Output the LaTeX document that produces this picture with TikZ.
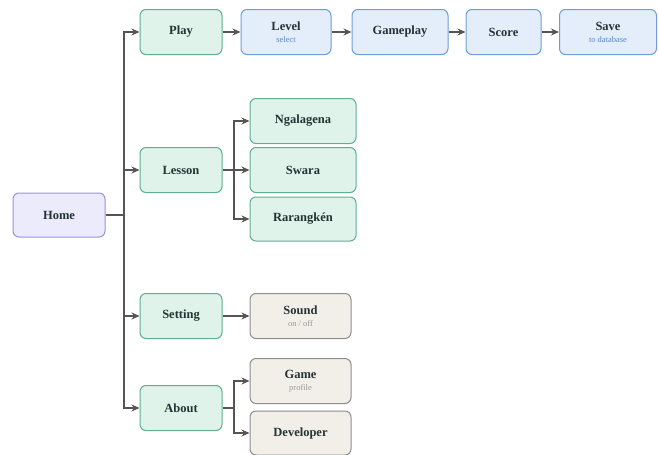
\documentclass[tikz,border=0pt]{standalone}
\usepackage{fontspec}
\setmainfont{Liberation Serif}
\usetikzlibrary{arrows.meta}
\definecolor{gfill}{HTML}{E0F3EA}
\definecolor{gdraw}{HTML}{5FAE92}
\definecolor{bfill}{HTML}{E3EEFA}
\definecolor{bdraw}{HTML}{6D9EDB}
\definecolor{pfill}{HTML}{ECEBFB}
\definecolor{pdraw}{HTML}{9C90E2}
\definecolor{efill}{HTML}{F2EFE9}
\definecolor{edraw}{HTML}{8E8E8E}
\definecolor{txt}{HTML}{243333}
\definecolor{bsub}{HTML}{5A86C8}
\definecolor{esub}{HTML}{9A9A9A}
\definecolor{arr}{HTML}{555555}
\tikzset{
  box/.style={rounded corners=6pt, line width=1pt, inner sep=0pt, align=center,
    font=\fontsize{12.5}{13}\selectfont\bfseries, text=txt},
  gbox/.style={box, fill=gfill, draw=gdraw},
  bbox/.style={box, fill=bfill, draw=bdraw},
  pbox/.style={box, fill=pfill, draw=pdraw},
  ebox/.style={box, fill=efill, draw=edraw},
  conn/.style={draw=arr, line width=1.4pt, -{Stealth[length=8pt,width=7pt]}},
  plain/.style={draw=arr, line width=1.4pt},
}
\newcommand{\subl}[2]{\\[-1pt]{\fontsize{8.5}{9}\selectfont\mdseries\color{#1}#2}}
\begin{document}
\begin{tikzpicture}[x=1pt,y=-1pt]
\useasboundingbox (0,0) rectangle (659,455);
\node[pbox, minimum width=92pt, minimum height=44pt] (home) at (59,215) {Home};
\node[gbox, minimum width=82pt, minimum height=45pt] (play) at (181,32) {Play};
\node[gbox, minimum width=82pt, minimum height=45pt] (lesson) at (181,170) {Lesson};
\node[gbox, minimum width=82pt, minimum height=45pt] (setting) at (181,316) {Setting};
\node[gbox, minimum width=82pt, minimum height=45pt] (about) at (181,408) {About};
\node[bbox, minimum width=90pt, minimum height=45pt] (level) at (286,32) {Level\subl{bsub}{select}};
\node[bbox, minimum width=96pt, minimum height=45pt] (gameplay) at (400,32) {Gameplay};
\node[bbox, minimum width=75pt, minimum height=45pt] (score) at (503.5,32) {Score};
\node[bbox, minimum width=97pt, minimum height=45pt] (save) at (608,32) {Save\subl{bsub}{to database}};
\node[gbox, minimum width=106pt, minimum height=45pt] (ngalagena) at (303,121) {Ngalagena};
\node[gbox, minimum width=106pt, minimum height=45pt] (swara) at (303,170) {Swara};
\node[gbox, minimum width=106pt, minimum height=44pt] (rarangken) at (303,219) {Rarangkén};
\node[ebox, minimum width=101pt, minimum height=45pt] (sound) at (300.5,316) {Sound\subl{esub}{on / off}};
\node[ebox, minimum width=101pt, minimum height=45pt] (game) at (300.5,381) {Game\subl{esub}{profile}};
\node[ebox, minimum width=101pt, minimum height=44pt] (developer) at (300.5,433) {Developer};
\coordinate (trunk) at (124,215);
\coordinate (lbr) at (234,170);
\coordinate (abr) at (234,408);
\draw[plain] (home.east) -- (trunk);
\draw[conn] (trunk) |- (play.west);
\draw[conn] (trunk) |- (lesson.west);
\draw[conn] (trunk) |- (setting.west);
\draw[conn] (trunk) |- (about.west);
\draw[conn] (play) -- (level);
\draw[conn] (level) -- (gameplay);
\draw[conn] (gameplay) -- (score);
\draw[conn] (score) -- (save);
\draw[plain] (lesson.east) -- (lbr);
\draw[conn] (lbr) |- (ngalagena.west);
\draw[conn] (lbr) -- (swara.west);
\draw[conn] (lbr) |- (rarangken.west);
\draw[conn] (setting) -- (sound);
\draw[plain] (about.east) -- (abr);
\draw[conn] (abr) |- (game.west);
\draw[conn] (abr) |- (developer.west);
\end{tikzpicture}
\end{document}
